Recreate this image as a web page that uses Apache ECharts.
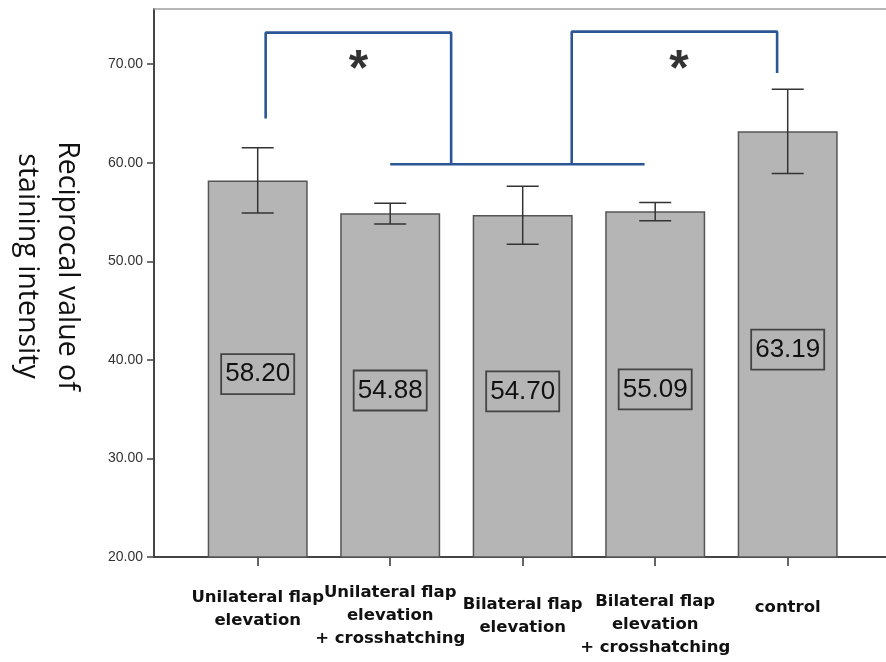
<!DOCTYPE html>
<html><head><meta charset="utf-8">
<script src="https://cdn.jsdelivr.net/npm/echarts@6/dist/echarts.min.js"></script>
<style>html,body{margin:0;padding:0;background:#fff}#c{width:886px;height:662px}</style>
</head><body><div id="c"></div>
<script>
// ---- data ----
const categories = [
  'Unilateral flap\nelevation',
  'Unilateral flap\nelevation\n+ crosshatching',
  'Bilateral flap\nelevation',
  'Bilateral flap\nelevation\n+ crosshatching',
  'control'
];
const means = [58.20, 54.88, 54.70, 55.09, 63.19];
const errLow = [54.90, 53.78, 51.72, 54.11, 58.92];
const errHigh = [61.52, 55.88, 57.62, 55.98, 67.45];
const yMin = 20, yMax = 75.6, yInterval = 10;
const yTitle = 'Reciprocal value of\nstaining intensity';
// significance brackets (x in category-index units, y in data units)
const bracketLeft = [[0.06, 64.5], [0.06, 73.2], [1.46, 73.2], [1.46, 59.85]];
const bracketBase = [[1.0, 59.85], [2.92, 59.85]];
const bracketRight = [[2.37, 59.85], [2.37, 73.3], [3.92, 73.3], [3.92, 69.1]];
const stars = [[0.76, 70.4], [3.18, 70.4]];

// ---- chart ----
const chart = echarts.init(document.getElementById('c'));
const labelPad = [5, 0, 12, 9, 15];
const bracketColor = '#2c5596';
const bracketSeries = [bracketLeft, bracketBase, bracketRight].map(d => ({
  type: 'line', xAxisIndex: 3, yAxisIndex: 1, data: d, symbol: 'none',
  lineStyle: { color: bracketColor, width: 2.6 }, z: 5, silent: true
}));

const option = {
  animation: false,
  backgroundColor: '#fff',
  grid: [
    { left: 154, top: 9, right: 0, bottom: 105 },
    { left: 191.45, top: 9, right: 32.05, bottom: 105 }
  ],
  xAxis: [
    { gridIndex: 0, type: 'value', min: 0, max: 1, position: 'bottom', axisLine: { show: true, lineStyle: { color: '#444', width: 2 } },
      axisTick: { show: false }, axisLabel: { show: false }, splitLine: { show: false } },
    { gridIndex: 0, type: 'value', min: 0, max: 1, position: 'top', axisLine: { show: true, lineStyle: { color: '#a0a0a0', width: 1.5 } },
      axisTick: { show: false }, axisLabel: { show: false }, splitLine: { show: false } },
    { gridIndex: 1, type: 'category', data: categories.map((c, i) => ({ value: c, textStyle: { padding: [labelPad[i], 0, 0, 0] } })),
      axisLine: { show: false },
      axisTick: { show: true, alignWithLabel: true, length: 9, lineStyle: { color: '#333', width: 1.5 } },
      axisLabel: { interval: 0, margin: 24, fontFamily: 'DejaVu Sans', fontWeight: 'bold', fontSize: 16.5, color: '#111', lineHeight: 23, align: 'center', verticalAlign: 'top' },
      splitLine: { show: false } },
    { gridIndex: 1, type: 'value', min: -0.5, max: 4.5, show: false }
  ],
  yAxis: [
    { gridIndex: 0, type: 'value', min: yMin, max: yMax, interval: yInterval,
      axisLine: { show: true, lineStyle: { color: '#444', width: 2 } },
      axisTick: { show: true, length: 7, lineStyle: { color: '#444', width: 1.5 } },
      axisLabel: { margin: 11, showMaxLabel: false, fontFamily: 'Liberation Sans', fontSize: 14, color: '#333', formatter: v => v.toFixed(2) },
      splitLine: { show: false } },
    { gridIndex: 1, type: 'value', min: yMin, max: yMax, show: false }
  ],
  graphic: [{
    type: 'text', x: 47, y: 266, rotation: -Math.PI / 2,
    style: { text: yTitle, font: '28.5px "Open Sans"', fill: '#111', textAlign: 'center', textVerticalAlign: 'middle', lineHeight: 40 }
  }],
  series: [
    {
      type: 'bar', xAxisIndex: 2, yAxisIndex: 1, data: means, barWidth: 100,
      itemStyle: { color: '#b5b5b5', borderColor: '#555', borderWidth: 1.5 },
      label: { show: true, position: 'inside', offset: [0, 5], formatter: p => p.value.toFixed(2),
        fontFamily: 'Liberation Sans', fontSize: 26, color: '#111', lineHeight: 28,
        borderColor: '#444', borderWidth: 1.8, padding: [6, 4, 6, 4] },
      z: 2
    },
    {
      type: 'custom', xAxisIndex: 2, yAxisIndex: 1,
      data: means.map((m, i) => [i, errLow[i], errHigh[i]]),
      encode: { x: 0, y: [1, 2] },
      renderItem: (params, api) => {
        const x = api.value(0);
        const lo = api.coord([x, api.value(1)]);
        const hi = api.coord([x, api.value(2)]);
        const hw = 16;
        const st = { stroke: '#333', lineWidth: 1.5 };
        return { type: 'group', children: [
          { type: 'line', shape: { x1: lo[0], y1: lo[1], x2: hi[0], y2: hi[1] }, style: st },
          { type: 'line', shape: { x1: lo[0] - hw, y1: lo[1], x2: lo[0] + hw, y2: lo[1] }, style: st },
          { type: 'line', shape: { x1: hi[0] - hw, y1: hi[1], x2: hi[0] + hw, y2: hi[1] }, style: st }
        ] };
      },
      z: 4
    },
    ...bracketSeries,
    {
      type: 'scatter', xAxisIndex: 3, yAxisIndex: 1, data: stars, symbolSize: 1,
      itemStyle: { color: 'transparent' },
      label: { show: true, position: 'inside', formatter: '*', fontFamily: 'Liberation Sans', fontWeight: 'bold', fontSize: 50, color: '#000', offset: [0, 11] },
      z: 6
    }
  ]
};
chart.setOption(option);
</script></body></html>
